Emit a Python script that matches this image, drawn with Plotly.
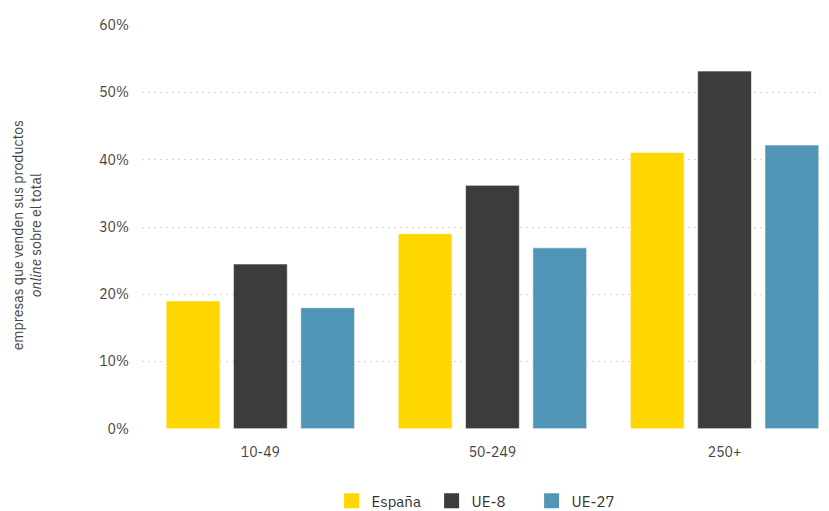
import plotly.graph_objects as go

categories = ["10-49", "50-249", "250+"]
espana = [19.0, 29.0, 41.1]
ue8 = [24.5, 36.2, 53.2]
ue27 = [18.0, 26.9, 42.2]
y_ticks = [0, 10, 20, 30, 40, 50, 60]
y_tick_labels = [f"{v}%" for v in y_ticks]

FONT = "IBM Plex Sans, Roboto, sans-serif"

series = [
    ("España", espana, "#FFD700"),
    ("UE-8", ue8, "#3C3C3A"),
    ("UE-27", ue27, "#5095B6"),
]

fig = go.Figure()
for name, values, color in series:
    fig.add_trace(go.Bar(
        x=categories,
        y=values,
        name=name,
        showlegend=False,
        marker=dict(color=color, line=dict(color="rgba(255,255,255,0.6)", width=1)),
        hovertemplate="%{x}: %{y:.1f}%<extra>" + name + "</extra>",
    ))
# legend entries as big squares, like the original
for name, values, color in series:
    fig.add_trace(go.Scatter(
        x=[None], y=[None],
        name=name,
        mode="markers",
        marker=dict(symbol="square", size=15, color=color),
        hoverinfo="skip",
    ))

# the page body adds an 8px margin, so the figure is 8px smaller than the window
fig.update_layout(
    width=821,
    height=503,
    margin=dict(l=134, r=0, t=17, b=82, autoexpand=False),
    paper_bgcolor="white",
    plot_bgcolor="white",
    font=dict(family=FONT, size=14, color="#444"),
    barmode="group",
    bargap=0.13,
    bargroupgap=0.2,
    showlegend=True,
    legend=dict(
        orientation="h",
        x=0.276,
        xanchor="left",
        y=-0.178,
        yanchor="middle",
        font=dict(size=15, color="#333"),
        itemwidth=30,
        entrywidth=55,
        tracegroupgap=0,
        traceorder="normal",
    ),
    xaxis=dict(
        range=[-0.51, 2.45],
        showgrid=False,
        showline=False,
        ticks="",
        automargin=False,
        ticklabelstandoff=13,
        tickfont=dict(size=14, color="#444"),
    ),
    yaxis=dict(
        range=[-0.05, 60.05],
        tickvals=y_ticks,
        ticktext=y_tick_labels,
        showgrid=True,
        gridcolor="#D6D6D6",
        griddash="2px,4px",
        gridwidth=1,
        zeroline=False,
        showline=False,
        ticks="",
        automargin=False,
        ticklabelstandoff=12,
        tickfont=dict(size=14, color="#444"),
    ),
    annotations=[dict(
        text="empresas que venden sus productos<br><i>online</i> sobre el total",
        xref="paper", yref="paper",
        x=-0.167, y=0.48,
        xanchor="center", yanchor="middle",
        textangle=-90,
        showarrow=False,
        font=dict(size=14, color="#444"),
    )],
)

fig.write_html("out.html")
